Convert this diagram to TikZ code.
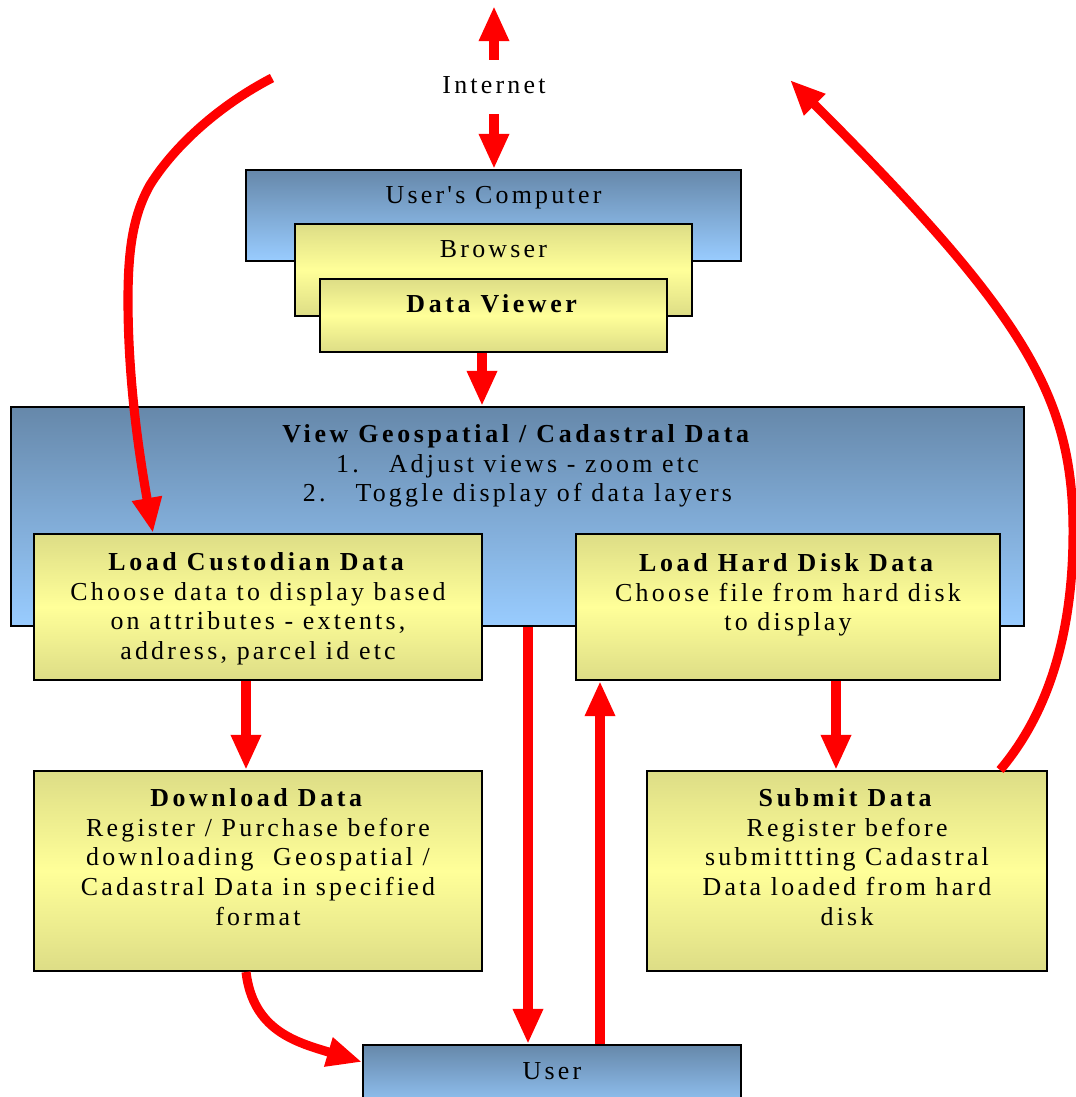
\documentclass[tikz,border=0pt]{standalone}
\usepackage{fontspec}
\setmainfont{Liberation Serif}[Ligatures={TeXOff,CommonOff}, LetterSpace=12.5, BoldFeatures={LetterSpace=14}]
\usetikzlibrary{arrows.meta, fit}

\definecolor{bluetop}{RGB}{102,136,170}
\definecolor{bluebot}{RGB}{153,204,255}
\definecolor{yeledge}{RGB}{221,221,134}
\definecolor{yelmid}{RGB}{255,255,153}
\definecolor{linkred}{RGB}{255,0,0}

% strut that fixes the top of every text block 12pt above its first baseline
\newcommand\firststrut{\rule{0pt}{12pt}}

\begin{document}
\begin{tikzpicture}[x=0.02cm, y=-0.02cm,
  bluebox/.style={draw=black, line width=1.1pt, inner sep=0pt,
                  top color=bluetop, bottom color=bluebot},
  yelbox/.style={draw=black, line width=1.1pt, inner sep=0pt,
                 top color=yeledge, bottom color=yeledge, middle color=yelmid},
  label/.style={inner sep=0pt, anchor=base, font=\fontsize{14.74pt}{17pt}\selectfont},
  block/.style={inner sep=0pt, anchor=north, align=center,
                font=\fontsize{14.74pt}{17pt}\selectfont},
  link/.style={draw=linkred, line width=5.2pt, -{Triangle[width=16pt,length=20pt]}}]

\useasboundingbox (0,0) rectangle (1075,1097);

% ---- computer stack ----
\node[bluebox, fit={(246,170) (741,261)}] (uc) {};
\node[yelbox,  fit={(295,224) (692,316)}] (br) {};
\node[yelbox,  fit={(320,279) (667,352)}] (dv) {};

% ---- main view and its sub-boxes ----
\node[bluebox, fit={(11,407) (1024,626)}] (view) {};
\node[yelbox,  fit={(34,534) (482,680)}] (lcd) {};
\node[yelbox,  fit={(576,534) (1000,680)}] (lhd) {};
\node[yelbox,  fit={(34,771) (482,971)}] (dl) {};
\node[yelbox,  fit={(647,771) (1047,971)}] (sub) {};
\node[bluebox, fit={(363,1045) (741,1115)}] (user) {};

% ---- texts ----
\node[label, text height=19.3pt, text depth=11.3pt] (inet) at (494,94) {Internet};
\node[label] (uctxt) at (493.5,204) {User's Computer};
\node[label] (brtxt) at (493.5,258) {Browser};
\node[label] (dvtxt) at (493.5,313) {\textbf{Data Viewer}};
\node[block] (viewtxt) at (517.5,420.8)
  {\firststrut\textbf{View Geospatial / Cadastral Data}\\
   1.\hspace{17pt}Adjust views - zoom etc\\
   2.\hspace{17pt}Toggle display of data layers};
\node[block] (lcdtxt) at (258,548.8)
  {\firststrut\textbf{Load Custodian Data}\\
   Choose data to display based\\
   on attributes - extents,\\
   address, parcel id etc};
\node[block] (lhdtxt) at (788,549.8)
  {\firststrut\textbf{Load Hard Disk Data}\\
   Choose file from hard disk\\
   to display};
\node[block] (dltxt) at (258,784.8)
  {\firststrut\textbf{Download Data}\\
   Register / Purchase before\\
   downloading\ \ Geospatial /\\
   Cadastral Data in specified\\
   format};
\node[block] (subtxt) at (847,784.8)
  {\firststrut\textbf{Submit Data}\\
   Register before\\
   submittting Cadastral\\
   Data loaded from hard\\
   disk};
\node[label] (usertxt) at (552,1079) {User};

% ---- free ends ----
\coordinate (nettop) at (494,6);
\coordinate (lstart) at (272,78);
\coordinate (rtip) at (790,80);

% ---- connectors ----
\draw[link] (inet.north) -- (nettop);
\draw[link] (inet.south) -- (inet.south |- uc.north);
\draw[link] (dv.south -| 482,0) -- (view.north -| 482,0);
\draw[link] (lstart) .. controls (220,105) and (175,145) .. (150,185)
            .. controls (133,215) and (128,250) .. (128,300)
            .. controls (128,390) and (142,470) .. (lcd.north -| 153,0);
\draw[link] (sub.north -| 1000,0) .. controls (1055,705) and (1072,620) .. (1073,540)
            .. controls (1075,400) and (1030,320) .. (rtip);
\draw[link] (lcd.south -| 246,0) -- (dl.north -| 246,0);
\draw[link] (lhd.south -| 836,0) -- (sub.north -| 836,0);
\draw[link] (view.south -| 528,0) -- (user.north -| 528,0);
\draw[link] (user.north -| 600,0) -- (lhd.south -| 600,0);
\draw[link] (dl.south -| 246,0) .. controls (253,1030) and (295,1042) .. (user.north west |- 0,1062);

\end{tikzpicture}
\end{document}
